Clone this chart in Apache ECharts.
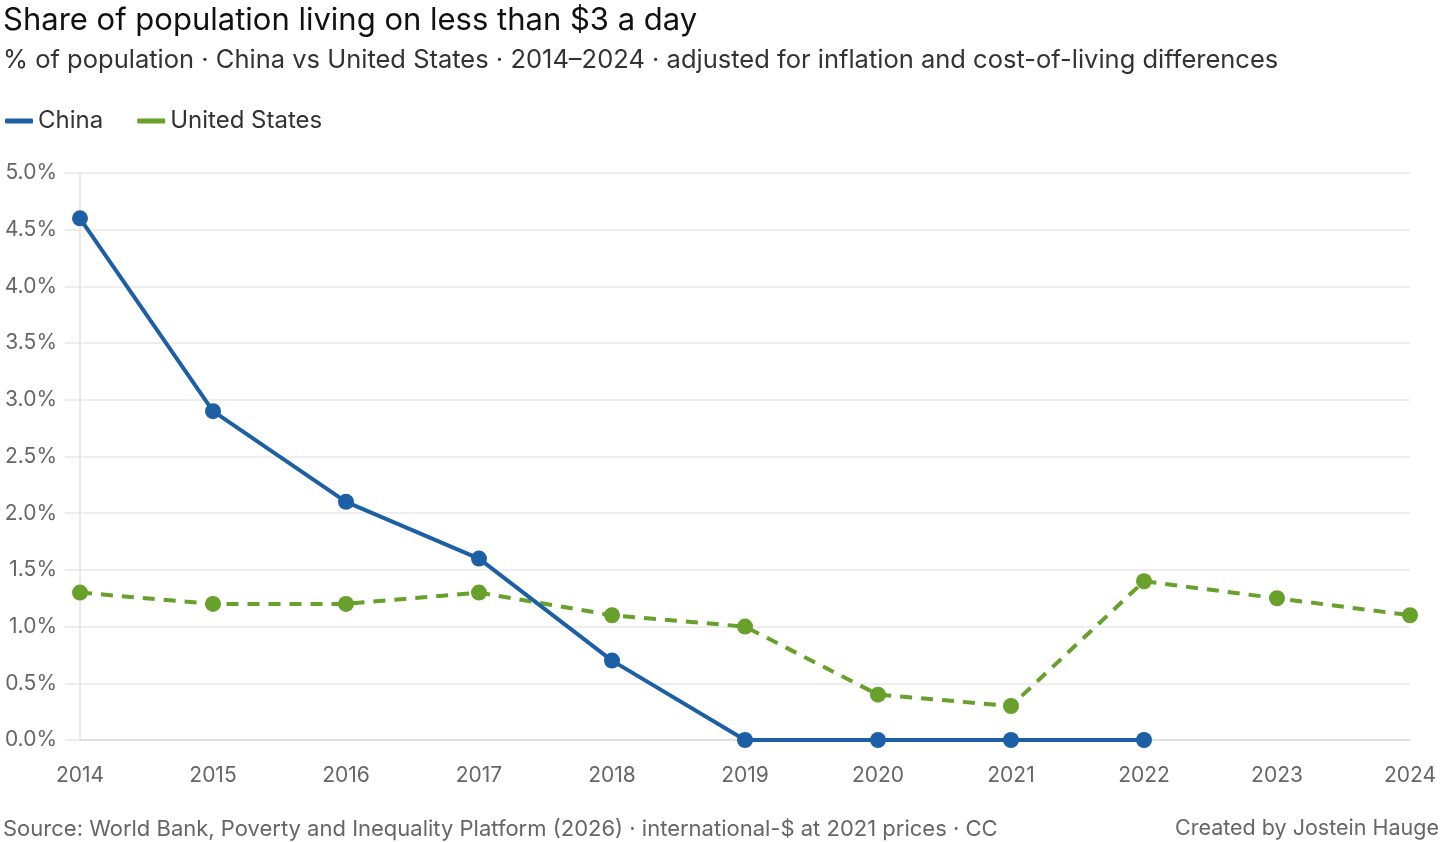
<!DOCTYPE html>
<html><head><meta charset="utf-8">
<script src="https://cdn.jsdelivr.net/npm/echarts@6/dist/echarts.min.js"></script>
<style>html,body{margin:0;padding:0;background:#fff}#c{width:1440px;height:842px}</style>
</head><body><div id="c"></div>
<script>
const years = ['2014','2015','2016','2017','2018','2019','2020','2021','2022','2023','2024'];
const china = [4.6, 2.9, 2.1, 1.6, 0.7, 0, 0, 0, 0, null, null];
const us = [1.3, 1.2, 1.2, 1.3, 1.1, 1.0, 0.4, 0.3, 1.4, 1.25, 1.1];
const FONT = 'Inter, "Liberation Sans", Arial, sans-serif';
const chart = echarts.init(document.getElementById('c'));
chart.setOption({
  animation: false,
  textStyle: {fontFamily: FONT},
  title: [
    {text: 'Share of population living on less than $3 a day', left: -2, top: 0,
     textStyle: {fontSize: 31, fontWeight: 'normal', color: '#111', fontFamily: FONT}},
    {text: '% of population · China vs United States · 2014–2024 · adjusted for inflation and cost-of-living differences', left: -2, top: 42,
     textStyle: {fontSize: 25.5, fontWeight: 'normal', color: '#333', fontFamily: FONT}},
    {text: 'Source: World Bank, Poverty and Inequality Platform (2026) · international-$ at 2021 prices · CC', left: -2, top: 813,
     textStyle: {fontSize: 22, fontWeight: 'normal', color: '#666', fontFamily: FONT}},
    {text: 'Created by Jostein Hauge', right: -4, top: 813,
     textStyle: {fontSize: 21.5, fontWeight: 'normal', color: '#666', fontFamily: FONT}}
  ],
  legend: {
    left: 0, top: 104, icon: 'roundRect', itemWidth: 28, itemHeight: 5, itemGap: 34,
    textStyle: {fontSize: 24, color: '#333', fontFamily: FONT},
    data: ['China', 'United States']
  },
  grid: {left: 80, right: 30, top: 173, bottom: 102, containLabel: false},
  xAxis: {
    type: 'category', data: years, boundaryGap: false,
    axisLine: {lineStyle: {color: '#dcdcdc', width: 1.5}},
    axisTick: {show: false},
    axisLabel: {fontSize: 21, color: '#666', margin: 25, fontFamily: FONT},
    splitLine: {show: false}
  },
  yAxis: {
    type: 'value', min: 0, max: 5, interval: 0.5,
    axisLine: {show: true, lineStyle: {color: '#e2e2e2', width: 1.5}},
    axisTick: {show: true, length: 15, lineStyle: {color: '#e8e8e8', width: 1.5}},
    axisLabel: {fontSize: 21, color: '#666', margin: 23, fontFamily: FONT,
      formatter: v => v.toFixed(1) + '%'},
    splitLine: {lineStyle: {color: '#e8e8e8', width: 1.5}}
  },
  series: [
    {name: 'China', type: 'line', data: china, symbol: 'circle', symbolSize: 16,
     color: '#1c5fa5', lineStyle: {width: 4, color: '#1c5fa5'}, itemStyle: {color: '#1c5fa5'}, z: 3},
    {name: 'United States', type: 'line', data: us, symbol: 'circle', symbolSize: 16,
     color: '#67a02a', lineStyle: {width: 4, color: '#67a02a', type: [12, 9]}, itemStyle: {color: '#67a02a'}, z: 2}
  ]
});
</script></body></html>
